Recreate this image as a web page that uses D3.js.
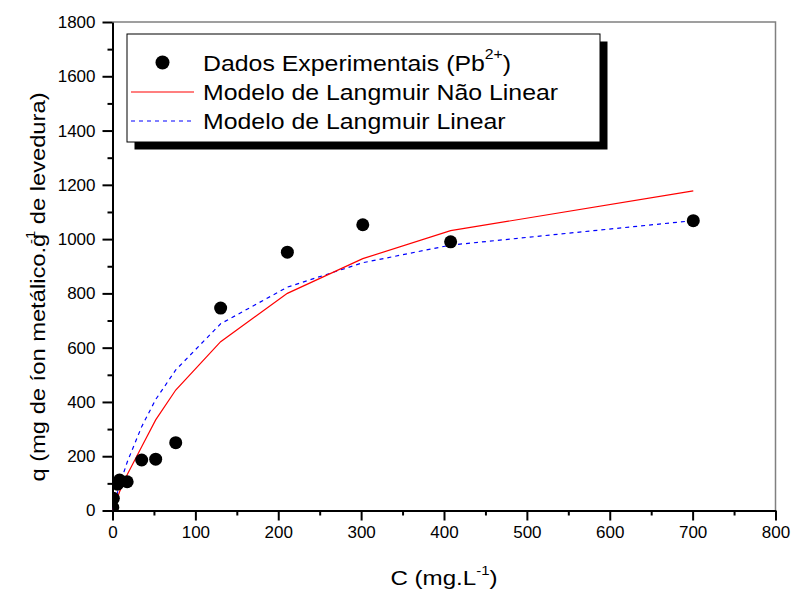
<!DOCTYPE html>
<html>
<head>
<meta charset="utf-8">
<script src="https://cdn.jsdelivr.net/npm/d3@7"></script>
<style>
  body { margin: 0; background: #fff; }
  svg { display: block; font-family: Arial, "Liberation Sans", sans-serif; }
</style>
</head>
<body>
<svg id="chart" width="795" height="591"></svg>
<script>
// Experimental Pb2+ adsorption data: equilibrium concentration C (mg/L) and uptake q (mg/g)
const expC = [0.3, 1.0, 6, 8.5, 17.7, 35.2, 52.1, 76.3, 130.5, 211, 302, 408, 700.8];
const expQ = [12, 45, 97, 112, 106, 186, 189, 250, 746, 952, 1053, 990, 1068];

// Langmuir model curves evaluated at the experimental concentrations
const modelC = [0, 1.0, 6, 8.5, 17.7, 35.2, 52.1, 76.3, 130.5, 211, 302, 408, 700.8];
const nonLinearQ = [0, 8, 48, 69, 132, 235, 334, 444, 622, 800, 928, 1031, 1178];
const linearQ = [0, 12, 67, 93, 178, 309, 409, 518, 688, 823, 913, 978, 1068];

const xTicks = [0, 100, 200, 300, 400, 500, 600, 700, 800];
const yTicks = [0, 200, 400, 600, 800, 1000, 1200, 1400, 1600, 1800];

const legendLabels = ["Dados Experimentais (Pb", "Modelo de Langmuir Não Linear", "Modelo de Langmuir Linear"];

const svg = d3.select("#chart");
const plot = { left: 112.5, right: 775.5, top: 22, bottom: 510.5 };
const FONT = "Arial, 'Liberation Sans', sans-serif";

const x = d3.scaleLinear().domain([0, 800]).range([plot.left, plot.right]);
const y = d3.scaleLinear().domain([0, 1800]).range([plot.bottom, plot.top]);

svg.append("defs").append("clipPath").attr("id", "plotClip")
  .append("rect")
  .attr("x", plot.left).attr("y", plot.top)
  .attr("width", plot.right - plot.left).attr("height", plot.bottom - plot.top);

// Top and right frame lines
svg.append("path")
  .attr("d", `M${plot.left},${plot.top}H${plot.right}V${plot.bottom}`)
  .attr("fill", "none").attr("stroke", "#808080").attr("stroke-width", 1.5);

const tickFont = 17;
const fmt = d3.format("d");

// Bottom axis: major ticks every 100, minor every 50
const xAxis = d3.axisBottom(x).tickValues(xTicks).tickFormat(fmt).tickSize(10).tickSizeOuter(0).tickPadding(5);
const gx = svg.append("g").attr("transform", `translate(0,${plot.bottom})`).call(xAxis);
gx.selectAll("text").attr("font-size", tickFont).attr("fill", "#000").attr("font-family", FONT);
gx.select(".domain").attr("stroke-width", 2);
gx.selectAll(".tick line").attr("stroke-width", 2);
const xMinor = d3.axisBottom(x).tickValues(d3.range(50, 800, 100)).tickSize(5).tickSizeOuter(0).tickFormat("");
svg.append("g").attr("transform", `translate(0,${plot.bottom})`).call(xMinor)
  .call(g => g.select(".domain").remove())
  .selectAll(".tick line").attr("stroke-width", 2);

// Left axis: major ticks every 200, minor every 100
const yAxis = d3.axisLeft(y).tickValues(yTicks).tickFormat(fmt).tickSize(10).tickSizeOuter(0).tickPadding(7);
const gy = svg.append("g").attr("transform", `translate(${plot.left},0)`).call(yAxis);
gy.selectAll("text").attr("font-size", tickFont).attr("fill", "#000").attr("font-family", FONT);
gy.select(".domain").attr("stroke-width", 2);
gy.selectAll(".tick line").attr("stroke-width", 2);
const yMinor = d3.axisLeft(y).tickValues(d3.range(100, 1800, 200)).tickSize(5).tickSizeOuter(0).tickFormat("");
svg.append("g").attr("transform", `translate(${plot.left},0)`).call(yMinor)
  .call(g => g.select(".domain").remove())
  .selectAll(".tick line").attr("stroke-width", 2);

// Axis titles (the face is drawn slightly wide)
const xTitle = svg.append("text")
  .attr("transform", `translate(${(plot.left + plot.right) / 2},585) scale(1.15,1)`)
  .attr("text-anchor", "middle").attr("font-size", 21);
xTitle.append("tspan").text("C (mg.L");
xTitle.append("tspan").attr("dy", -10).attr("font-size", 13).text("-1");
xTitle.append("tspan").attr("dy", 10).text(")");

const yTitle = svg.append("text")
  .attr("transform", `translate(45,287) rotate(-90) scale(1.13,1)`)
  .attr("text-anchor", "middle").attr("font-size", 21);
yTitle.append("tspan").text("q (mg de íon metálico.g");
yTitle.append("tspan").attr("dy", -10).attr("dx", -9).attr("font-size", 13).text("-1");
yTitle.append("tspan").attr("dy", 10).text(" de levedura)");

// Data layer
const layer = svg.append("g").attr("clip-path", "url(#plotClip)");

const line = d3.line().x(d => x(d[0])).y(d => y(d[1]));

layer.append("path")
  .datum(d3.zip(modelC, linearQ))
  .attr("d", line).attr("fill", "none")
  .attr("stroke", "#0000ff").attr("stroke-width", 1.2).attr("stroke-dasharray", "4,4");

layer.append("path")
  .datum(d3.zip(modelC, nonLinearQ))
  .attr("d", line).attr("fill", "none")
  .attr("stroke", "#ff0000").attr("stroke-width", 1.2);

layer.selectAll("circle.pt")
  .data(d3.zip(expC, expQ))
  .join("circle").attr("class", "pt")
  .attr("cx", d => x(d[0])).attr("cy", d => y(d[1]))
  .attr("r", 6.5).attr("fill", "#000");

// Legend with drop shadow
const lg = svg.append("g");
lg.append("rect").attr("x", 134.5).attr("y", 41.5).attr("width", 473).attr("height", 108).attr("fill", "#000");
lg.append("rect").attr("x", 127).attr("y", 34).attr("width", 473).attr("height", 108)
  .attr("fill", "#fff").attr("stroke", "#000").attr("stroke-width", 1);

const rows = [70.5, 100, 129];
lg.append("circle").attr("cx", 162.5).attr("cy", rows[0] - 8).attr("r", 7).attr("fill", "#000");
lg.append("line").attr("x1", 131).attr("x2", 194).attr("y1", rows[1] - 8).attr("y2", rows[1] - 8)
  .attr("stroke", "#ff0000").attr("stroke-width", 1.2);
lg.append("line").attr("x1", 131).attr("x2", 194).attr("y1", rows[2] - 8).attr("y2", rows[2] - 8)
  .attr("stroke", "#0000ff").attr("stroke-width", 1.2).attr("stroke-dasharray", "4,4");

const legendFont = 22;
const legendStretch = 1.13;
const legendText = (yy) => lg.append("text")
  .attr("transform", `translate(203,${yy}) scale(${legendStretch},1)`)
  .attr("font-size", legendFont);
const t0 = legendText(rows[0]);
t0.append("tspan").text(legendLabels[0]);
t0.append("tspan").attr("dy", -12).attr("font-size", 14).text("2+");
t0.append("tspan").attr("dy", 12).text(")");
legendText(rows[1]).text(legendLabels[1]);
legendText(rows[2]).text(legendLabels[2]);
</script>
</body>
</html>
